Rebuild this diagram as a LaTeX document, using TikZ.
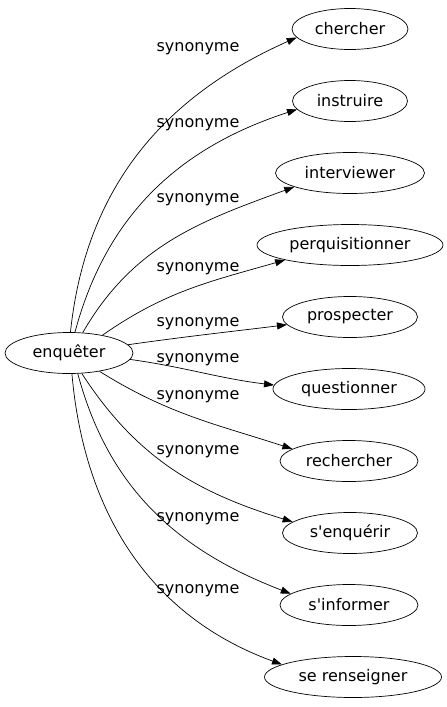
\documentclass[tikz,border=0pt]{standalone}
\usepackage{fontspec}
\setmainfont{DejaVu Sans}[Ligatures=TeXOff]
\usetikzlibrary{arrows.meta, shapes.geometric}

\begin{document}
\begin{tikzpicture}[x=1pt, y=1pt, >={Triangle[length=10pt, width=7pt]},
  font=\fontsize{16}{19}\selectfont]

\tikzset{
  word/.style={draw, ellipse, inner sep=0pt, minimum height=41pt, line width=0.7pt},
  syn/.style={->, line width=0.7pt},
  lab/.style={inner sep=0pt}
}

\useasboundingbox (0,0) rectangle (447,-707);

%-- source
\node[word, minimum width=128pt] (enq) at (69,-353) {enquêter};

%-- synonyms
\node[word, minimum width=116pt] (chercher)        at (350,-29)  {chercher};
\node[word, minimum width=115pt] (instruire)       at (350,-101) {instruire};
\node[word, minimum width=149pt] (interviewer)     at (350,-173) {interviewer};
\node[word, minimum width=186pt] (perquisitionner) at (350,-245) {perquisitionner};
\node[word, minimum width=135pt] (prospecter)      at (350,-317) {prospecter};
\node[word, minimum width=152pt] (questionner)     at (349,-389) {questionner};
\node[word, minimum width=138pt] (rechercher)      at (349,-461) {rechercher};
\node[word, minimum width=135pt] (senquerir)       at (350,-533) {s'enquérir};
\node[word, minimum width=138pt] (sinformer)       at (349,-605) {s'informer};
\node[word, minimum width=177pt] (serenseigner)    at (353,-677) {se renseigner};

%-- edges: target / start anchor / out / in / end anchor
\foreach \w/\a/\o/\i/\b in {chercher/86/84/204/189, instruire/74/75/198/189,
    interviewer/56/60/200/194, perquisitionner/28/35/196/193,
    prospecter/8/8/187/187, questionner/354/352/173/177,
    rechercher/329/328/162/168, senquerir/302/303/163/169,
    sinformer/293/285/159/169, serenseigner/278/275/160/170}
  \draw[syn] (enq.\a) to[out=\o, in=\i] (\w.\b);

%-- edge labels
\foreach \n/\y in {1/48.5, 2/125, 3/200, 4/268.5, 5/323.5,
    6/360, 7/396.5, 8/452, 9/519, 10/591}
  \node[lab] (lab\n) at (198,-\y) {synonyme};

\end{tikzpicture}
\end{document}
